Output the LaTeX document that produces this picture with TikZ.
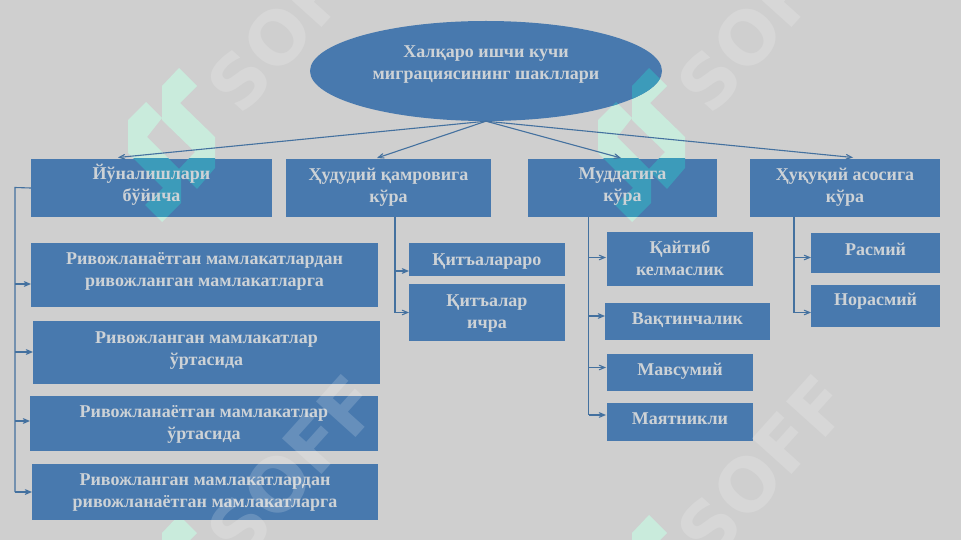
\documentclass[tikz,border=0pt]{standalone}
\usepackage{fontspec}
\setmainfont{Liberation Serif}
\usepackage{tikz}
\usetikzlibrary{shapes.geometric,arrows}
\definecolor{paper}{HTML}{CFCFCF}
\definecolor{boxblue}{HTML}{4879AE}
\definecolor{linkblue}{HTML}{44719F}
\definecolor{boxtext}{HTML}{CDD2D6}
\definecolor{mint}{HTML}{C9EBDC}
\definecolor{mintdark}{HTML}{3C9BBA}
\newcommand{\logoright}{(179,68) -- (197,86) -- (180,103) -- (215,137) -- (215,168) -- (197,189) -- (178,170) -- (195,152) -- (162,120) -- (162,86) -- cycle}
\newcommand{\logoleft}{(146,102) -- (162,118) -- (147,137) -- (181,171) -- (181,203) -- (162,222) -- (145,205) -- (163,188) -- (128,153) -- (128,120) -- cycle}
\begin{document}
\begin{tikzpicture}[x=1pt,y=-1pt,>=angle 45]
\tikzset{
  boxsize/.style 2 args={minimum width=#1pt,minimum height=#2pt},
  lift/.style={text depth=#1pt},
  box/.style={rectangle,fill=boxblue,text=boxtext,inner sep=0pt,align=center,
              font=\fontsize{18}{22}\selectfont\bfseries},
  logomark/.style={path picture={\pgftransformreset\pgftransformshift{\pgfpoint{#1pt}{0pt}}
      \fill[mintdark] \logoright;
      \fill[mintdark] \logoleft;}},
  link/.style={draw=linkblue,line width=1.1pt},
  mark text/.style={font=\fontsize{73}{73}\selectfont\fontspec{DejaVu Sans}\bfseries,
              text=white,text opacity=0.17,rotate=48}
}
\useasboundingbox (0,0) rectangle (961,540);
\fill[paper] (0,0) rectangle (961,540);
% logo marks, under the boxes
\foreach \x/\y in {0/0,470/0,0/447,470/447}{
  \fill[mint,shift={(\x,\y)}] \logoright;
  \fill[mint,shift={(\x,\y)}] \logoleft;
}
\node[box,ellipse,boxsize={352}{100},lift=16,logomark=470] (top) at (486,71)
  {Халқаро ишчи кучи\\миграциясининг шакллари};
% four kinds
\node[box,boxsize={241}{58},lift=10,logomark=0] (y) at (151.5,188) {Йўналишлари\\бўйича};
\node[box,boxsize={205}{58},lift=6] (h) at (388.5,188) {Ҳудудий қамровига\\кўра};
\node[box,boxsize={189}{58},lift=6,logomark=470] (m) at (622.5,188) {Муддатига\\кўра};
\node[box,boxsize={190}{58},lift=6] (q) at (845,188) {Ҳуқуқий асосига\\кўра};
% by direction
\node[box,boxsize={347}{64},lift=11] (r1) at (204.5,275) {Ривожланаётган мамлакатлардан\\ривожланган мамлакатларга};
\node[box,boxsize={347}{63},lift=8] (r2) at (206.5,352.5) {Ривожланган мамлакатлар\\ўртасида};
\node[box,boxsize={348}{55},lift=3] (r3) at (204,423.5) {Ривожланаётган мамлакатлар\\ўртасида};
\node[box,boxsize={346}{56},lift=3] (r4) at (205,492) {Ривожланган мамлакатлардан\\ривожланаётган мамлакатларга};
% by area
\node[box,boxsize={156}{33},lift=0] (k1) at (487,259.5) {Қитъалараро};
\node[box,boxsize={156}{57},lift=2] (k2) at (487,312.5) {Қитъалар\\ичра};
% by term
\node[box,boxsize={146}{54},lift=1] (d1) at (680,259) {Қайтиб\\келмаслик};
\node[box,boxsize={165}{37},lift=6] (d2) at (687.5,321.5) {Вақтинчалик};
\node[box,boxsize={146}{37},lift=5] (d3) at (680,372) {Мавсумий};
\node[box,boxsize={146}{38},lift=7] (d4) at (680,422) {Маятникли};
% by legal basis
\node[box,boxsize={129}{39},lift=7] (j1) at (875.5,253) {Расмий};
\node[box,boxsize={129}{42},lift=13] (j2) at (875.5,306) {Норасмий};
% connector ends
\coordinate (t1) at (118,157.5);
\coordinate (t2) at (377,158);
\coordinate (t3) at (621,158);
\coordinate (t4) at (853,157.5);
\coordinate (s1) at (15,187.5);
\coordinate (a1) at (31,284);
\coordinate (a2) at (33,352);
\coordinate (a3) at (30,421);
\coordinate (a4) at (32,492);
\coordinate (s2) at (395,217);
\coordinate (b1) at (409,271);
\coordinate (b2) at (409,312.5);
\coordinate (s3) at (588.5,217);
\coordinate (c1) at (606,257.5);
\coordinate (c2) at (605,316);
\coordinate (c3) at (606,367.5);
\coordinate (c4) at (606,415);
\coordinate (s4) at (794,217);
\coordinate (e1) at (811,257.5);
\coordinate (e2) at (811,312.5);
\foreach \j in {t1,t2,t3,t4}{\draw[link,->] (top.south) -- (\j);}
\draw[link] (y.west) -- (s1) -- (s1 |- a4);
\draw[link] (s2) -- (s2 |- b2);
\draw[link] (s3) -- (s3 |- c4);
\draw[link] (s4) -- (s4 |- e2);
\foreach \i/\j in {s1/a1,s1/a2,s1/a3,s1/a4,s2/b1,s2/b2,s3/c1,s3/c2,s3/c3,s3/c4,s4/e1,s4/e2}{\draw[link,->] (\i |- \j) -- (\j);}
% pale lettering over everything
\foreach \n/\x/\y in {1/293/20,2/763/20,3/293/467,4/763/467}{
  \node[mark text] (soff\n) at (\x,\y) {SOFF};
}
\end{tikzpicture}
\end{document}
